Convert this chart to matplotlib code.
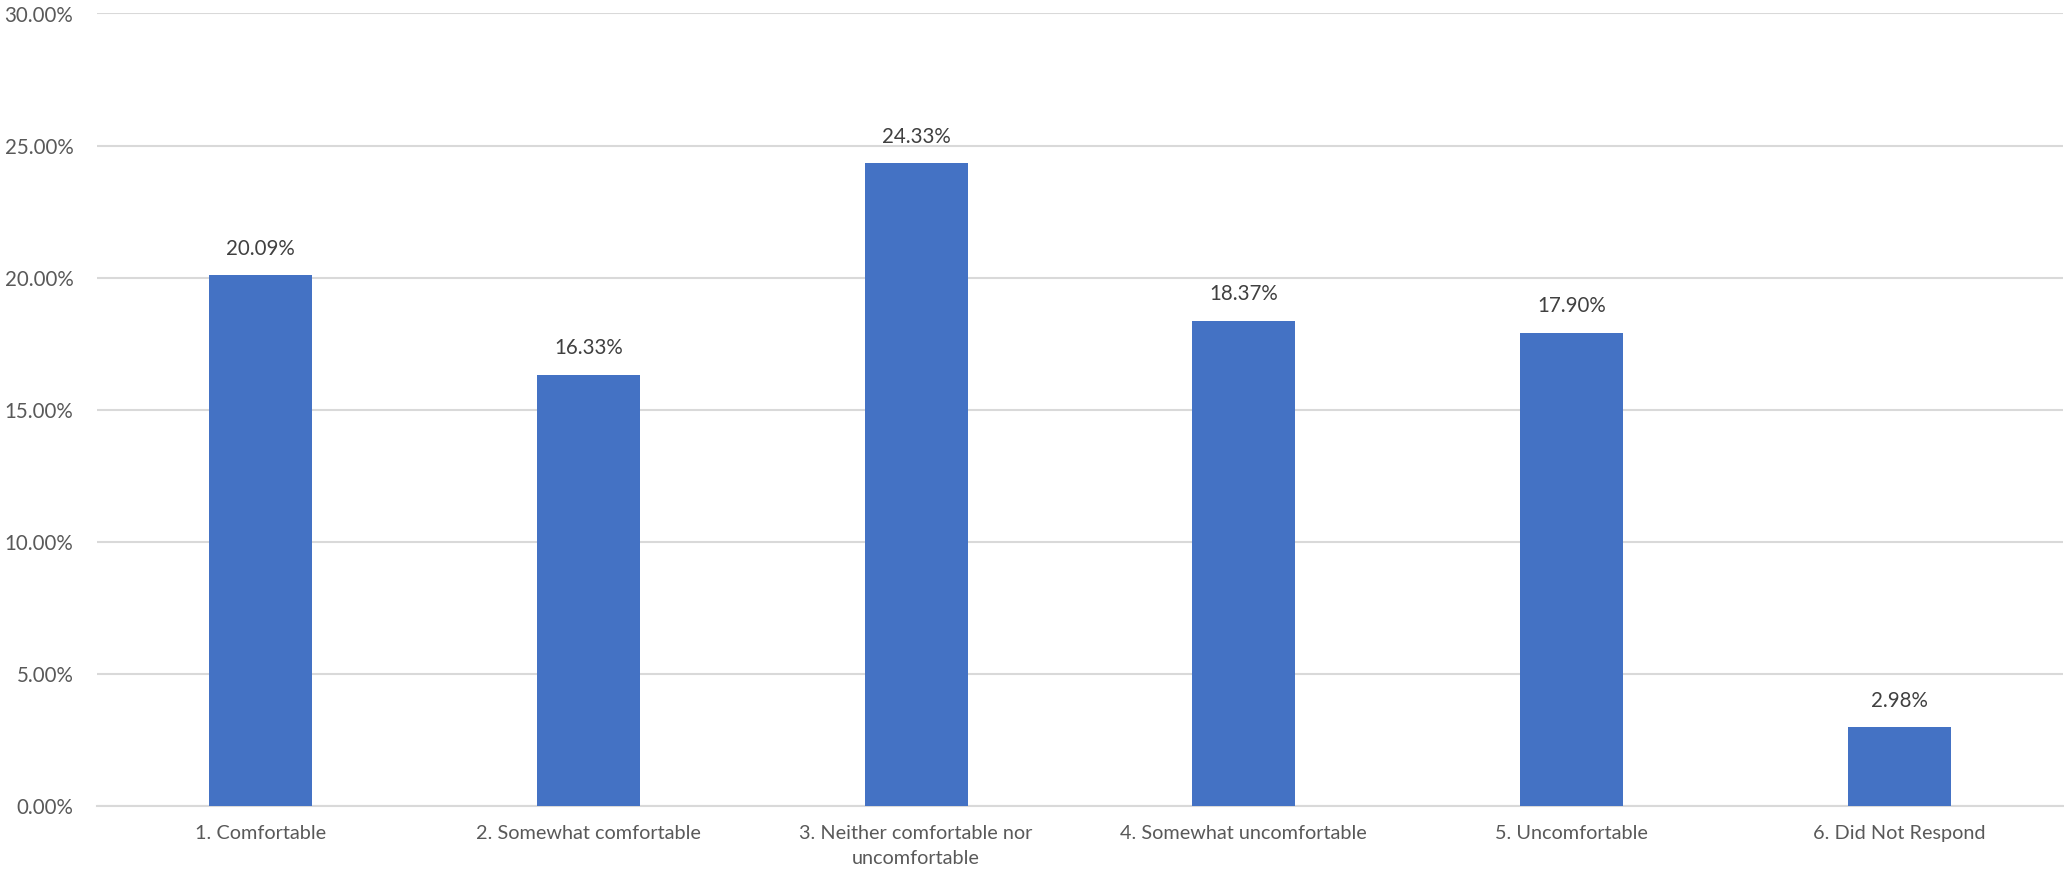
import matplotlib
matplotlib.use("Agg")
import matplotlib.pyplot as plt
from matplotlib.ticker import FuncFormatter, MultipleLocator

categories = ["1. Comfortable", "2. Somewhat comfortable",
              "3. Neither comfortable nor\nuncomfortable",
              "4. Somewhat uncomfortable", "5. Uncomfortable",
              "6. Did Not Respond"]
values = [20.09, 16.33, 24.33, 18.37, 17.90, 2.98]

plt.rcParams['font.family'] = ['Lato', 'DejaVu Sans']

W, H = 2064, 880
fig = plt.figure(figsize=(W / 100, H / 100), dpi=100)
ax = fig.add_axes([97 / W, (H - 806) / H, 1966 / W, (806 - 13.5) / H])

x = list(range(len(categories)))
bars = ax.bar(x, values, width=0.315, color="#4472C4", zorder=3)
for xi, v in zip(x, values):
    ax.annotate(f"{v:.2f}%", (xi, v), xytext=(0, 12), textcoords="offset points",
                ha="center", va="bottom", fontsize=14.8, color="#404040")

ax.set_xlim(-0.5, len(categories) - 0.5)
ax.set_ylim(0, 30)
ax.yaxis.set_major_locator(MultipleLocator(5))
ax.yaxis.set_major_formatter(FuncFormatter(lambda v, p: f"{v:.2f}%"))
ax.set_xticks(x)
ax.set_xticklabels(categories, fontsize=14.3, color="#595959", linespacing=1.55)
ax.tick_params(axis="y", labelsize=14.8, labelcolor="#595959", length=0, pad=17)
ax.tick_params(axis="x", length=0, pad=14)
ax.grid(axis="y", color="#D9D9D9", linewidth=1.5, zorder=0)
for s in ["top", "right", "left"]:
    ax.spines[s].set_visible(False)
ax.spines["bottom"].set_color("#D9D9D9")
ax.spines["bottom"].set_linewidth(1.5)

fig.savefig("out.png", dpi=100, facecolor="white")
